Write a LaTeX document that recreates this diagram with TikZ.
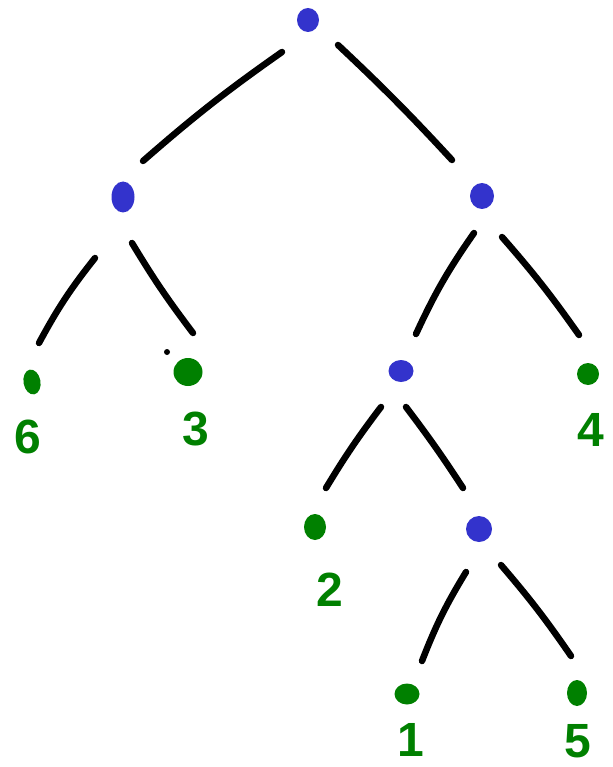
\documentclass[tikz,border=0pt]{standalone}
\usepackage{fontspec}
\setmainfont{Liberation Sans}
\usetikzlibrary{shapes.geometric,calc}
\definecolor{nodeblue}{RGB}{51,51,204}
\definecolor{leafgreen}{RGB}{0,128,0}
\tikzset{
  inner/.style={ellipse,fill=nodeblue,inner sep=0pt},
  leaf/.style={ellipse,fill=leafgreen,inner sep=0pt},
  lbl/.style={text=leafgreen,font=\fontsize{48}{48}\selectfont\bfseries,inner sep=0pt},
  edge/.style={line width=6.5pt,line cap=round,black},
}
\begin{document}
\begin{tikzpicture}[x=1pt,y=-1pt]
\useasboundingbox (0,0) rectangle (612,767);
% internal nodes
\node[inner,minimum width=22pt,minimum height=24pt] (r) at (308,20) {};
\node[inner,minimum width=23pt,minimum height=31pt] (l) at (123,197) {};
\node[inner,minimum width=24pt,minimum height=26pt] (rr) at (482,196) {};
\node[inner,minimum width=25pt,minimum height=22pt] (rl) at (401,371) {};
\node[inner,minimum width=26pt,minimum height=26pt] (rlr) at (479,529) {};
% leaves
\node[leaf,minimum width=17pt,minimum height=25pt,rotate=10] (n6) at (32,382) {};
\node[leaf,minimum width=29pt,minimum height=28pt] (n3) at (188,372) {};
\node[leaf,minimum width=22pt,minimum height=22pt] (n4) at (588,374) {};
\node[leaf,minimum width=22pt,minimum height=26pt] (n2) at (315,527) {};
\node[leaf,minimum width=25pt,minimum height=21pt] (n1) at (407,694) {};
\node[leaf,minimum width=20pt,minimum height=26pt] (n5) at (577,693) {};
\node[circle,fill=black,inner sep=0pt,minimum size=6pt] (speck) at (167,352) {};
% labels
\node[lbl] (t6) at (28,437) {6};
\node[lbl] (t3) at (196,429) {3};
\node[lbl] (t4) at (591,430) {4};
\node[lbl] (t2) at (330,590) {2};
\node[lbl] (t1) at (411,740) {1};
\node[lbl] (t5) at (578,741) {5};
% edges
\draw[edge] ($(r)+(-26,32)$) to[bend right=3] ($(l)+(20,-36)$);
\draw[edge] ($(r)+(30,25)$) to[bend left=2] ($(rr)+(-30,-36)$);
\draw[edge] ($(l)+(-28,61)$) to[bend right=5] ($(n6)+(7,-39)$);
\draw[edge] ($(l)+(9,46)$) to[bend right=3] ($(n3)+(5,-39)$);
\draw[edge] ($(rr)+(-8,37)$) to[bend right=5] ($(rl)+(15,-37)$);
\draw[edge] ($(rr)+(20,41)$) to[bend left=3] ($(n4)+(-9,-39)$);
\draw[edge] ($(rl)+(-20,36)$) to[bend right=3] ($(n2)+(11,-39)$);
\draw[edge] ($(rl)+(5,36)$) to[bend left=2] ($(rlr)+(-16,-41)$);
\draw[edge] ($(rlr)+(-13,43)$) to[bend right=5] ($(n1)+(15,-33)$);
\draw[edge] ($(rlr)+(22,36)$) to[bend left=3] ($(n5)+(-6,-37)$);
\end{tikzpicture}
\end{document}
